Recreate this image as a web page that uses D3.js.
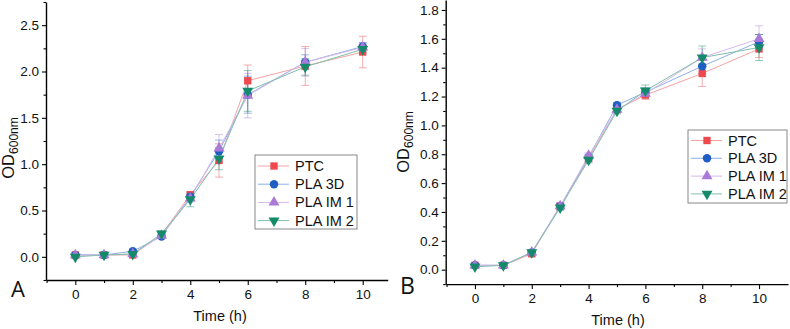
<!DOCTYPE html>
<html>
<head>
<meta charset="utf-8">
<script src="https://cdn.jsdelivr.net/npm/d3@7"></script>
<style>
  html, body { margin: 0; padding: 0; background: #fff; }
  svg { display: block; font-family: "Liberation Sans", Arial, sans-serif; }
</style>
</head>
<body>
<svg id="chart" width="790" height="329"></svg>
<script>
// ---------- DATA ----------
const times = [0, 1, 2, 3, 4, 5, 6, 8, 10];
const seriesNames = ["PTC", "PLA 3D", "PLA IM 1", "PLA IM 2"];

// Panel A
const aPTC   = [0.02, 0.02, 0.02, 0.24, 0.67, 1.04, 1.90, 2.06, 2.21];
const aPLA3D = [0.02, 0.02, 0.06, 0.22, 0.65, 1.14, 1.75, 2.10, 2.27];
const aIM1   = [0.02, 0.02, 0.03, 0.23, 0.63, 1.17, 1.74, 2.10, 2.26];
const aIM2   = [0.00, 0.02, 0.03, 0.25, 0.62, 1.06, 1.79, 2.05, 2.24];
const aPTCerr   = [0.01, 0.01, 0.01, 0.02, 0.03, 0.18, 0.17, 0.21, 0.17];
const aPLA3Derr = [0.01, 0.01, 0.01, 0.02, 0.03, 0.12, 0.20, 0.08, 0.04];
const aIM1err   = [0.01, 0.01, 0.01, 0.02, 0.04, 0.15, 0.24, 0.15, 0.05];
const aIM2err   = [0.02, 0.01, 0.01, 0.03, 0.08, 0.12, 0.22, 0.09, 0.04];

// Panel B
const bPTC   = [0.03, 0.03, 0.11, 0.44, 0.77, 1.11, 1.21, 1.36, 1.53];
const bPLA3D = [0.03, 0.03, 0.12, 0.44, 0.78, 1.14, 1.23, 1.41, 1.58];
const bIM1   = [0.03, 0.03, 0.12, 0.44, 0.79, 1.11, 1.22, 1.47, 1.60];
const bIM2   = [0.02, 0.03, 0.12, 0.43, 0.76, 1.10, 1.24, 1.47, 1.54];
const bPTCerr   = [0.01, 0.01, 0.01, 0.02, 0.02, 0.02, 0.03, 0.09, 0.06];
const bPLA3Derr = [0.01, 0.01, 0.01, 0.02, 0.02, 0.02, 0.03, 0.05, 0.05];
const bIM1err   = [0.01, 0.01, 0.01, 0.02, 0.02, 0.02, 0.03, 0.06, 0.09];
const bIM2err   = [0.01, 0.01, 0.01, 0.02, 0.02, 0.02, 0.04, 0.08, 0.09];

const xTicks = [0, 2, 4, 6, 8, 10];
const xMinor = [-1, 1, 3, 5, 7, 9];
const aYTicks = [0.0, 0.5, 1.0, 1.5, 2.0, 2.5];
const aYMinor = [-0.25, 0.25, 0.75, 1.25, 1.75, 2.25, 2.75];
const bYTicks = [0.0, 0.2, 0.4, 0.6, 0.8, 1.0, 1.2, 1.4, 1.6, 1.8];
const bYMinor = [-0.1, 0.1, 0.3, 0.5, 0.7, 0.9, 1.1, 1.3, 1.5, 1.7];

// ---------- STYLE ----------
const colors = ["#ee4a4e", "#1f5fc4", "#a97bd6", "#148a6a"];
const lineColors = ["#f4a3a5", "#8fb0e6", "#d6b8ee", "#7fc0ac"];
const symbols = [d3.symbolSquare, d3.symbolCircle, d3.symbolTriangle, "down"];
const symSizes = [54, 56, 52, 52];

const svg = d3.select("#chart");

function markerPath(i) {
  if (symbols[i] === "down") {
    return { d: d3.symbol().type(d3.symbolTriangle).size(symSizes[i])(), rot: 180 };
  }
  return { d: d3.symbol().type(symbols[i]).size(symSizes[i])(), rot: 0 };
}

function panel(cfg) {
  const g = svg.append("g");
  const x = d3.scaleLinear().domain(cfg.xDomain).range(cfg.xRange);
  const y = d3.scaleLinear().domain(cfg.yDomain).range(cfg.yRange);
  const x0 = cfg.xRange[0], y0 = cfg.yRange[0];

  // series
  cfg.series.forEach((vals, i) => {
    const errs = cfg.errs[i];
    const pts = times.map((t, k) => ({ t, v: vals[k], e: errs[k] }));
    g.append("path")
      .datum(pts)
      .attr("fill", "none")
      .attr("stroke", lineColors[i])
      .attr("stroke-width", 1)
      .attr("d", d3.line().x(d => x(d.t)).y(d => y(d.v)));
    const eb = g.append("g").attr("stroke", colors[i]).attr("stroke-opacity", 0.45).attr("stroke-width", 1);
    pts.forEach(d => {
      const xt = x(d.t), yt = y(d.v + d.e), yb = y(d.v - d.e);
      eb.append("line").attr("x1", xt).attr("x2", xt).attr("y1", yt).attr("y2", yb);
      eb.append("line").attr("x1", xt - 4).attr("x2", xt + 4).attr("y1", yt).attr("y2", yt);
      eb.append("line").attr("x1", xt - 4).attr("x2", xt + 4).attr("y1", yb).attr("y2", yb);
    });
  });
  cfg.series.forEach((vals, i) => {
    const m = markerPath(i);
    g.append("g").selectAll("path").data(times.map((t, k) => ({ t, v: vals[k] })))
      .join("path")
      .attr("d", m.d)
      .attr("fill", colors[i])
      .attr("transform", d => `translate(${x(d.t)},${y(d.v)}) rotate(${m.rot})`);
  });

  // axes
  g.append("g").attr("transform", `translate(0,${y0})`)
    .call(d3.axisBottom(x).tickValues(xTicks).tickFormat(d3.format("d")).tickSize(5).tickPadding(4).tickSizeOuter(0));
  g.append("g").attr("transform", `translate(0,${y0})`)
    .call(d3.axisBottom(x).tickValues(xMinor).tickFormat("").tickSize(3).tickSizeOuter(0))
    .call(s => s.select(".domain").remove());
  g.append("g").attr("transform", `translate(${x0},0)`)
    .call(d3.axisLeft(y).tickValues(cfg.yTicks).tickFormat(d3.format(".1f")).tickSize(4).tickPadding(3).tickSizeOuter(0));
  g.append("g").attr("transform", `translate(${x0},0)`)
    .call(d3.axisLeft(y).tickValues(cfg.yMinor).tickFormat("").tickSize(2.5).tickSizeOuter(0))
    .call(s => s.select(".domain").remove());
  g.selectAll(".domain").attr("stroke", "#000").attr("stroke-width", 1.4);
  g.selectAll(".tick line").attr("stroke", "#000").attr("stroke-width", 1.1);
  g.selectAll(".tick text").attr("font-size", 13.5).attr("fill", "#111")
    .attr("font-family", "'Liberation Sans', Arial, sans-serif");

  // titles
  g.append("text").attr("x", cfg.xTitle[0]).attr("y", cfg.xTitle[1])
    .attr("text-anchor", "middle").attr("font-size", 14.5).attr("fill", "#111").text("Time (h)");
  const yt = g.append("text")
    .attr("transform", `translate(${cfg.yTitle[0]},${cfg.yTitle[1]}) rotate(-90)`)
    .attr("text-anchor", "middle").attr("fill", "#111").attr("font-size", 16.5);
  yt.append("tspan").text("OD");
  yt.append("tspan").attr("font-size", 12).attr("dy", 4).text("600nm");

  g.append("text").attr("x", cfg.letter[0]).attr("y", cfg.letter[1])
    .attr("font-size", cfg.letter[2]).attr("fill", "#111")
    .attr("font-family", "'Open Sans', 'DejaVu Sans', sans-serif").text(cfg.letter[3]);

  // legend
  const L = cfg.legend;
  const lg = g.append("g");
  lg.append("rect").attr("x", L.x).attr("y", L.y).attr("width", L.w).attr("height", L.h)
    .attr("fill", "#fff").attr("stroke", "#888").attr("stroke-width", 1);
  seriesNames.forEach((name, i) => {
    const cy = L.y + L.first + i * L.step;
    lg.append("line").attr("x1", L.x + 3).attr("x2", L.x + 34).attr("y1", cy).attr("y2", cy)
      .attr("stroke", lineColors[i]).attr("stroke-width", 1);
    const m = markerPath(i);
    lg.append("path").attr("d", m.d).attr("fill", colors[i])
      .attr("transform", `translate(${L.x + 19},${cy}) rotate(${m.rot})`);
    lg.append("text").attr("x", L.x + 40).attr("y", cy + 5).attr("font-size", 14.5)
      .attr("fill", "#111").text(name);
  });
}

panel({
  xDomain: [-1.02, 10.87], xRange: [46, 387.7],
  yDomain: [-0.25, 2.75], yRange: [280, 2],
  yTicks: aYTicks, yMinor: aYMinor,
  series: [aPTC, aPLA3D, aIM1, aIM2],
  errs: [aPTCerr, aPLA3Derr, aIM1err, aIM2err],
  xTitle: [220, 321], yTitle: [14, 148],
  letter: [11, 297, 22, "A"],
  legend: { x: 255, y: 155, w: 102, h: 74, first: 11, step: 18.2 }
});

panel({
  xDomain: [-1.03, 11.02], xRange: [445.7, 788],
  yDomain: [-0.1, 1.869], yRange: [284.1, 0],
  yTicks: bYTicks, yMinor: bYMinor,
  series: [bPTC, bPLA3D, bIM1, bIM2],
  errs: [bPTCerr, bPLA3Derr, bIM1err, bIM2err],
  xTitle: [618, 325], yTitle: [409, 142],
  letter: [400, 294, 23, "B"],
  legend: { x: 688, y: 130, w: 99, h: 73, first: 10.5, step: 17.8 }
});
</script>
</body>
</html>
